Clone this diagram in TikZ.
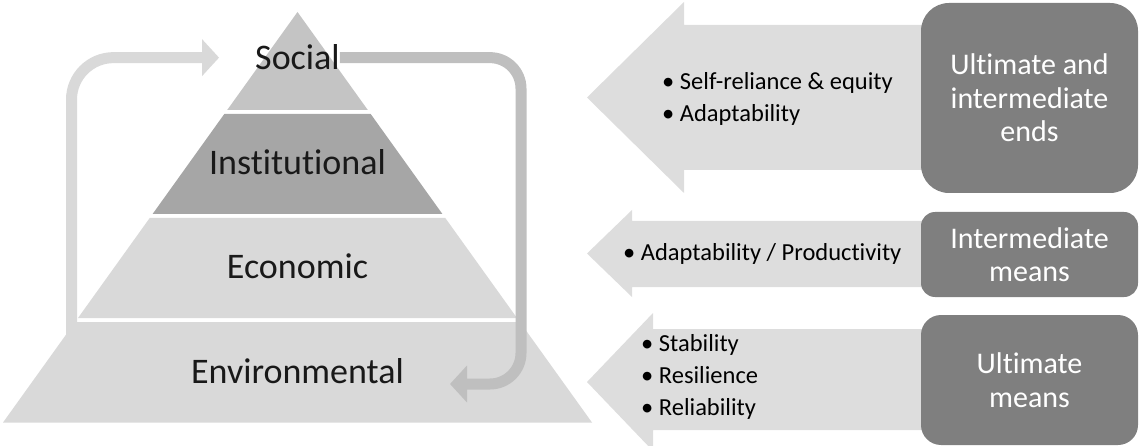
\documentclass[tikz,border=0pt]{standalone}
\usepackage{fontspec}
\setmainfont{Carlito}[Ligatures={NoCommon, NoRequired, NoContextual}]
\usetikzlibrary{arrows.meta, positioning}

\definecolor{socialgray}{HTML}{C4C4C4}
\definecolor{instgray}{HTML}{A6A6A6}
\definecolor{basegray}{HTML}{D9D9D9}
\definecolor{loopgray}{HTML}{BFBFBF}
\definecolor{blockgray}{HTML}{DDDDDD}
\definecolor{boxgray}{HTML}{7F7F7F}

\begin{document}
\begin{tikzpicture}[x=1pt, y=-1pt,
    layerlabel/.style={font=\fontsize{36}{40}\selectfont, inner sep=0pt, anchor=base, text=black!90},
    bulletlist/.style={font=\fontsize{24.5}{32}\selectfont, align=left, anchor=west, inner sep=0pt},
    meansbox/.style={fill=boxgray, text=white, align=center, minimum width=217pt,
        font=\fontsize{30}{33.5}\selectfont, inner sep=0pt},
    cyclearrow/.style={line width=11pt, -{Triangle[width=36pt, length=17pt]}}]
    \useasboundingbox (0,0) rectangle (1139,446);

    % Pyramid layers
    \fill[socialgray] (297.5,12) -- (367.8,110) -- (227.2,110) -- cycle;
    \fill[instgray] (224.3,114) -- (370.7,114) -- (442.4,214) -- (152.6,214) -- cycle;
    \fill[basegray] (149.7,218) -- (445.3,218) -- (517,318) -- (78,318) -- cycle;
    \fill[basegray] (75.1,322) -- (519.9,322) -- (592,422.5) -- (3,422.5) -- cycle;

    % Layer names
    \node[layerlabel] (social) at (297.5,70) {Social};
    \node[layerlabel] (inst) at (297.5,175) {Institutional};
    \node[layerlabel] (econ) at (297.5,278) {Economic};
    \node[layerlabel] (env) at (297.5,383) {Environmental};

    % Feedback arrows round the pyramid
    \coordinate (loopstart) at (71.5,335);
    \coordinate (loopend) at (450,384);
    \draw[cyclearrow, basegray, rounded corners=42pt, shorten >=36pt]
        (loopstart) |- (social.west);
    \draw[cyclearrow, loopgray, rounded corners=31pt]
        (social.east) -| (521,384) -- (loopend);

    % Block arrows
    \fill[blockgray] (587,97.5) -- (684,2) -- (684,25) -- (930,25) -- (930,170)
        -- (684,170) -- (684,193) -- cycle;
    \fill[blockgray] (587,253.5) -- (632,210) -- (632,221) -- (930,221) -- (930,287)
        -- (632,287) -- (632,297) -- cycle;
    \fill[blockgray] (587,382) -- (653,313) -- (653,329) -- (930,329) -- (930,430)
        -- (653,430) -- (653,451) -- cycle;

    % Bullet lists
    \node[bulletlist] (endslist) at (662,98.5) {• Self-reliance \& equity\\• Adaptability};
    \node[bulletlist] (midlist) at (623,253.5) {• Adaptability / Productivity};
    \node[bulletlist] (baselist) at (641,376.5) {• Stability\\• Resilience\\• Reliability};

    % Ends and means
    \node[meansbox, minimum height=190pt, rounded corners=28pt] (ends) at (1029.5,98)
        {Ultimate and\\intermediate\\ends};
    \node[meansbox, minimum height=85pt, rounded corners=14pt] (midmeans) at (1029.5,254.5)
        {Intermediate\\means};
    \node[meansbox, minimum height=130pt, rounded corners=20pt] (basemeans) at (1029.5,380)
        {Ultimate\\means};
\end{tikzpicture}
\end{document}
